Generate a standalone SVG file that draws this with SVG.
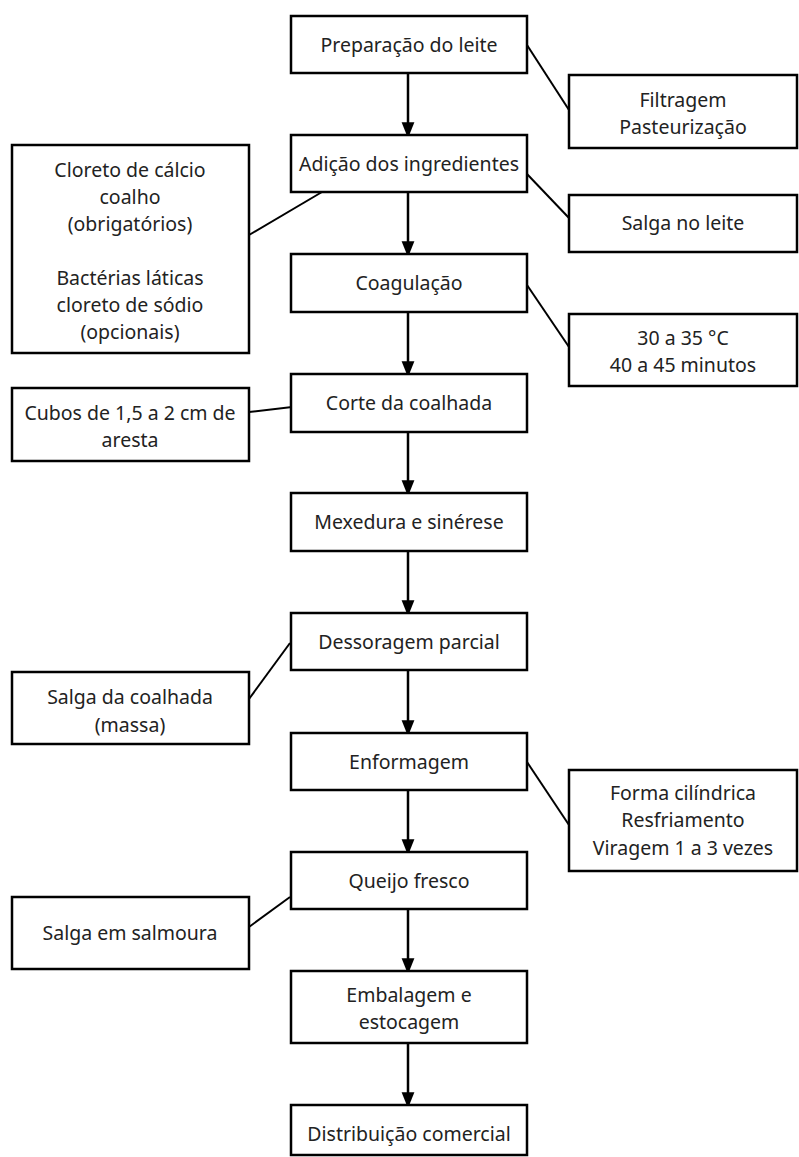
<svg xmlns="http://www.w3.org/2000/svg" width="799" height="1157" viewBox="0 0 799 1157">
<defs>
<marker id="arr" markerWidth="16" markerHeight="20" refX="16" refY="8" orient="auto" markerUnits="userSpaceOnUse" viewBox="0 0 20 16">
<path d="M0,0 L20,8 L0,16 Z" fill="#000"/>
</marker>
<style>
rect{fill:#fff;stroke:#000;stroke-width:2.5}
text{font-family:"Noto Sans","Open Sans","DejaVu Sans",sans-serif;font-size:19.5px;fill:#222;text-anchor:middle}
.flow{stroke:#000;stroke-width:2.5;fill:none}
.link{stroke:#000;stroke-width:2;fill:none}
</style>
</defs>
<rect x="0" y="0" width="799" height="1157" style="fill:#fff;stroke:none"/>
<g id="connectors">
<line class="flow" x1="408" y1="73" x2="408" y2="135" marker-end="url(#arr)"/>
<line class="flow" x1="408" y1="192" x2="408" y2="254" marker-end="url(#arr)"/>
<line class="flow" x1="408" y1="312" x2="408" y2="374" marker-end="url(#arr)"/>
<line class="flow" x1="408" y1="432" x2="408" y2="493" marker-end="url(#arr)"/>
<line class="flow" x1="408" y1="551" x2="408" y2="613" marker-end="url(#arr)"/>
<line class="flow" x1="408" y1="670" x2="408" y2="733" marker-end="url(#arr)"/>
<line class="flow" x1="408" y1="790" x2="408" y2="852" marker-end="url(#arr)"/>
<line class="flow" x1="408" y1="909" x2="408" y2="971" marker-end="url(#arr)"/>
<line class="flow" x1="408" y1="1043" x2="408" y2="1105" marker-end="url(#arr)"/>
<line class="link" x1="527" y1="45" x2="569" y2="110"/>
<line class="link" x1="527" y1="174" x2="569" y2="218"/>
<line class="link" x1="527" y1="285" x2="569" y2="347"/>
<line class="link" x1="249" y1="235" x2="322" y2="192"/>
<line class="link" x1="249" y1="412" x2="326" y2="403"/>
<line class="link" x1="290" y1="643" x2="249" y2="699"/>
<line class="link" x1="527" y1="762" x2="569" y2="825"/>
<line class="link" x1="290" y1="897" x2="249" y2="927"/>
</g>
<g id="n1"><rect x="291" y="16" width="236" height="57"/><text x="409" y="52">Preparação do leite</text></g>
<g id="n2"><rect x="291" y="135" width="236" height="57"/><text x="409" y="171">Adição dos ingredientes</text></g>
<g id="n3"><rect x="291" y="254" width="236" height="58"/><text x="409" y="290">Coagulação</text></g>
<g id="n4"><rect x="291" y="374" width="236" height="58"/><text x="409" y="410">Corte da coalhada</text></g>
<g id="n5"><rect x="291" y="493" width="236" height="58"/><text x="409" y="529">Mexedura e sinérese</text></g>
<g id="n6"><rect x="291" y="613" width="236" height="57"/><text x="409" y="649">Dessoragem parcial</text></g>
<g id="n7"><rect x="291" y="733" width="236" height="57"/><text x="409" y="769">Enformagem</text></g>
<g id="n8"><rect x="291" y="852" width="236" height="57"/><text x="409" y="888">Queijo fresco</text></g>
<g id="n9"><rect x="291" y="971" width="236" height="72"/><text x="409" y="1002">Embalagem e</text><text x="409" y="1029">estocagem</text></g>
<g id="n10"><rect x="291" y="1105" width="236" height="50"/><text x="409" y="1141">Distribuição comercial</text></g>
<g id="r1"><rect x="569" y="75" width="228" height="73"/><text x="683" y="107">Filtragem</text><text x="683" y="134">Pasteurização</text></g>
<g id="r2"><rect x="569" y="195" width="228" height="57"/><text x="683" y="230">Salga no leite</text></g>
<g id="r3"><rect x="569" y="314" width="228" height="72"/><text x="683" y="345">30 a 35 °C</text><text x="683" y="372">40 a 45 minutos</text></g>
<g id="r4"><rect x="569" y="770" width="228" height="101"/><text x="683" y="800">Forma cilíndrica</text><text x="683" y="827">Resfriamento</text><text x="683" y="855">Viragem 1 a 3 vezes</text></g>
<g id="l1"><rect x="12" y="145" width="237" height="208"/><text x="130" y="177">Cloreto de cálcio</text><text x="130" y="204">coalho</text><text x="130" y="231">(obrigatórios)</text><text x="130" y="285">Bactérias láticas</text><text x="130" y="312">cloreto de sódio</text><text x="130" y="339">(opcionais)</text></g>
<g id="l2"><rect x="12" y="388" width="237" height="73"/><text x="130" y="420">Cubos de 1,5 a 2 cm de</text><text x="130" y="447">aresta</text></g>
<g id="l3"><rect x="12" y="672" width="237" height="72"/><text x="130" y="704">Salga da coalhada</text><text x="130" y="732">(massa)</text></g>
<g id="l4"><rect x="12" y="897" width="237" height="72"/><text x="130" y="940">Salga em salmoura</text></g>
</svg>
